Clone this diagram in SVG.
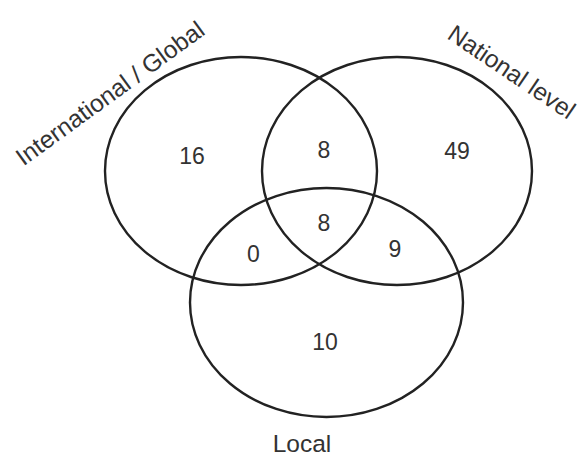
<svg xmlns="http://www.w3.org/2000/svg" width="584" height="459" viewBox="0 0 584 459">
<style>
.set{fill:none;stroke:#222;stroke-width:2.4}
.num{font-family:"Liberation Sans",Arial,sans-serif;font-size:23px;fill:#333;text-anchor:middle}
.lbl{font-family:"Liberation Sans",Arial,sans-serif;font-size:24.5px;fill:#333;text-anchor:middle}
</style>
<rect width="584" height="459" fill="#fff"/>
<g id="connectors"></g>
<g id="set-international">
<ellipse class="set" cx="241" cy="171" rx="136" ry="114"/>
<text class="lbl" transform="translate(115,100) rotate(-36)">International / Global</text>
</g>
<g id="set-national">
<ellipse class="set" cx="397" cy="171" rx="135" ry="114"/>
<text class="lbl" transform="translate(507,79) rotate(34)">National level</text>
</g>
<g id="set-local">
<ellipse class="set" cx="326.5" cy="302.5" rx="136.5" ry="114.5"/>
<text class="lbl" x="302" y="452">Local</text>
</g>
<g id="counts">
<text class="num" x="192" y="164">16</text>
<text class="num" x="324" y="158">8</text>
<text class="num" x="457" y="159">49</text>
<text class="num" x="324" y="231">8</text>
<text class="num" x="253.5" y="262">0</text>
<text class="num" x="395" y="257">9</text>
<text class="num" x="325" y="350">10</text>
</g>
</svg>
